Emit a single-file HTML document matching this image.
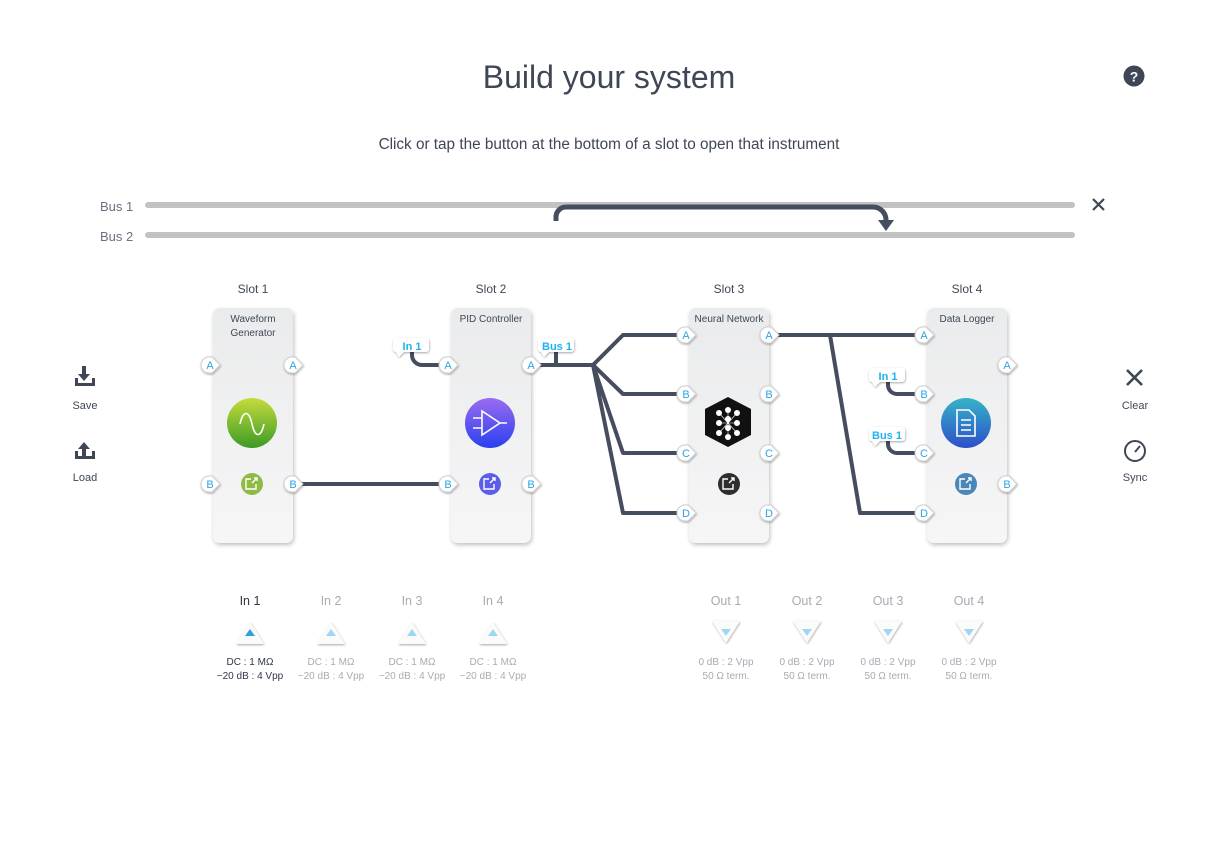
<!DOCTYPE html>
<html><head><meta charset="utf-8"><style>
html,body{margin:0;padding:0;background:#fff;}
svg{display:block;font-family:"Liberation Sans",sans-serif;}
</style></head><body>
<svg width="1226" height="843" viewBox="0 0 1226 843" xmlns="http://www.w3.org/2000/svg">
<defs>
<filter id="sh" x="-20%" y="-10%" width="140%" height="130%"><feDropShadow dx="1" dy="2" stdDeviation="2" flood-color="#000" flood-opacity="0.25"/></filter>
<filter id="sh2" x="-50%" y="-50%" width="200%" height="200%"><feDropShadow dx="0.5" dy="1" stdDeviation="1" flood-color="#000" flood-opacity="0.35"/></filter>
<linearGradient id="card" x1="0" y1="0" x2="0" y2="1"><stop offset="0" stop-color="#eaebec"/><stop offset="1" stop-color="#f6f6f7"/></linearGradient>
<linearGradient id="fadeL" x1="0" x2="1"><stop offset="0" stop-color="#454d5e" stop-opacity="0"/><stop offset="0.4" stop-color="#454d5e"/></linearGradient>
<linearGradient id="fadeR" x1="0" x2="1"><stop offset="0.6" stop-color="#454d5e"/><stop offset="1" stop-color="#454d5e" stop-opacity="0"/></linearGradient>
<linearGradient id="green" x1="0" y1="0" x2="0" y2="1"><stop offset="0" stop-color="#c6dc3c"/><stop offset="1" stop-color="#3c9a26"/></linearGradient>
<linearGradient id="blue" x1="0" y1="0" x2="0" y2="1"><stop offset="0" stop-color="#9a6cf0"/><stop offset="1" stop-color="#2a3ff0"/></linearGradient>
<linearGradient id="teal" x1="0" y1="0" x2="0" y2="1"><stop offset="0" stop-color="#36b3c8"/><stop offset="1" stop-color="#2c4fc8"/></linearGradient>
<g id="port"><path d="M-1,-8 h3 l8,8 l-8,8 h-3 a8,8 0 0 1 0,-16z" fill="#fff" stroke="#d0d0d2" stroke-width="1" filter="url(#sh2)"/></g>
<g id="tag"><path d="M-17,-8 h30 a3,3 0 0 1 3,3 v8 a3,3 0 0 1 -3,3 h-22 l-5,5 l-3,-5 a3,3 0 0 1 -3,-3 v-8 a3,3 0 0 1 3,-3z" fill="#fff" filter="url(#sh2)"/></g>
</defs>

<text x="609" y="88" font-size="32" fill="#3f4756" text-anchor="middle">Build your system</text>
<circle cx="1134" cy="76" r="10.5" fill="#3f4756"/><text x="1134" y="81.5" font-size="14" font-weight="bold" fill="#fff" text-anchor="middle">?</text>
<text x="609" y="149" font-size="15.3" fill="#3f4756" text-anchor="middle">Click or tap the button at the bottom of a slot to open that instrument</text>

<text x="100" y="211" font-size="13" fill="#6a7180">Bus 1</text>
<text x="100" y="241" font-size="13" fill="#6a7180">Bus 2</text>
<line x1="148" y1="205" x2="1072" y2="205" stroke="#c2c2c2" stroke-width="6" stroke-linecap="round"/>
<line x1="148" y1="235" x2="1072" y2="235" stroke="#c2c2c2" stroke-width="6" stroke-linecap="round"/>
<path d="M556,221 v-4 a10,10 0 0 1 10,-10 h307 a13,13 0 0 1 13,13 v2" fill="none" stroke="#454d5e" stroke-width="5"/>
<path d="M878,220 h16 l-8,11z" fill="#454d5e"/>
<path d="M1093,199 l11,11 M1104,199 l-11,11" stroke="#3f4756" stroke-width="2.2"/>

<g fill="#3f4756"><rect x="82" y="366" width="4" height="10"/><path d="M78,374 h12 l-6,7z"/><path d="M75,378 v8 h20 v-8 h-3 v5 h-14 v-5z"/>
<rect x="82" y="447" width="4" height="10"/><path d="M78,449 h12 l-6,-7z"/><path d="M75,451 v8 h20 v-8 h-3 v5 h-14 v-5z"/></g>
<text x="85" y="409" font-size="11" fill="#3f4756" text-anchor="middle">Save</text>
<text x="85" y="481" font-size="11" fill="#3f4756" text-anchor="middle">Load</text>
<path d="M1127,370 l15,15 M1142,370 l-15,15" stroke="#3f4756" stroke-width="2.6"/>
<text x="1135" y="409" font-size="11" fill="#3f4756" text-anchor="middle">Clear</text>
<circle cx="1135" cy="451" r="10" fill="none" stroke="#3f4756" stroke-width="2"/><path d="M1135,452 l5,-6" stroke="#3f4756" stroke-width="2"/>
<text x="1135" y="481" font-size="11" fill="#3f4756" text-anchor="middle">Sync</text>

<g fill="none" stroke="#454d5e" stroke-width="4" stroke-linejoin="round">
<line x1="140" y1="365" x2="206" y2="365" stroke="url(#fadeL)"/>
<line x1="140" y1="484" x2="206" y2="484" stroke="url(#fadeL)"/>
<line x1="296" y1="484" x2="444" y2="484"/>
<path d="M412,350 v5 a10,10 0 0 0 10,10 h22"/>
<path d="M534,365 h59 M556,350 v15"/>
<path d="M593,365 L623,335 H682 M593,365 L623,394 H682 M593,365 L623,453 H682 M593,365 L623,513 H682"/>
<path d="M772,335 H920 M830,335 L860,513 H920"/>
<path d="M888,380 v5 a9,9 0 0 0 9,9 h23"/>
<path d="M888,439 v5 a9,9 0 0 0 9,9 h23"/>
<line x1="1010" y1="365" x2="1078" y2="365" stroke="url(#fadeR)"/>
<line x1="1010" y1="484" x2="1078" y2="484" stroke="url(#fadeR)"/>
</g>

<g filter="url(#sh)" fill="url(#card)">
<rect x="213" y="308" width="80" height="235" rx="7"/>
<rect x="451" y="308" width="80" height="235" rx="7"/>
<rect x="689" y="308" width="80" height="235" rx="7"/>
<rect x="927" y="308" width="80" height="235" rx="7"/>
</g>
<g font-size="10" fill="#3f4756" text-anchor="middle">
<text x="253" y="322">Waveform</text><text x="253" y="336">Generator</text>
<text x="491" y="322">PID Controller</text>
<text x="729" y="322">Neural Network</text>
<text x="967" y="322">Data Logger</text>
</g>
<g font-size="12" fill="#3f4756" text-anchor="middle">
<text x="253" y="293">Slot 1</text><text x="491" y="293">Slot 2</text><text x="729" y="293">Slot 3</text><text x="967" y="293">Slot 4</text>
</g>

<g>
<use href="#port" x="210" y="365"/><use href="#port" x="293" y="365"/><use href="#port" x="210" y="484"/><use href="#port" x="293" y="484"/>
<use href="#port" x="448" y="365"/><use href="#port" x="531" y="365"/><use href="#port" x="448" y="484"/><use href="#port" x="531" y="484"/>
<use href="#port" x="686" y="335"/><use href="#port" x="769" y="335"/><use href="#port" x="686" y="394"/><use href="#port" x="769" y="394"/>
<use href="#port" x="686" y="453"/><use href="#port" x="769" y="453"/><use href="#port" x="686" y="513"/><use href="#port" x="769" y="513"/>
<use href="#port" x="924" y="335"/><use href="#port" x="924" y="394"/><use href="#port" x="924" y="453"/><use href="#port" x="924" y="513"/>
<use href="#port" x="1007" y="365"/><use href="#port" x="1007" y="484"/>
</g>
<g font-size="11" fill="#2aa6e0" text-anchor="middle">
<text x="210" y="369">A</text><text x="293" y="369">A</text><text x="210" y="488">B</text><text x="293" y="488">B</text>
<text x="448" y="369">A</text><text x="531" y="369">A</text><text x="448" y="488">B</text><text x="531" y="488">B</text>
<text x="686" y="339">A</text><text x="769" y="339">A</text><text x="686" y="398">B</text><text x="769" y="398">B</text>
<text x="686" y="457">C</text><text x="769" y="457">C</text><text x="686" y="517">D</text><text x="769" y="517">D</text>
<text x="924" y="339">A</text><text x="924" y="398">B</text><text x="924" y="457">C</text><text x="924" y="517">D</text>
<text x="1007" y="369">A</text><text x="1007" y="488">B</text>
</g>

<use href="#tag" x="413" y="346"/><use href="#tag" x="558" y="346"/><use href="#tag" x="889" y="376"/><use href="#tag" x="889" y="435"/>
<g font-size="11" font-weight="bold" fill="#1cb4f0" text-anchor="middle">
<text x="412" y="350">In 1</text><text x="557" y="350">Bus 1</text><text x="888" y="380">In 1</text><text x="887" y="439">Bus 1</text>
</g>

<circle cx="252" cy="423" r="25" fill="url(#green)"/>
<path d="M237,424 c3,-14 9,-14 12,0 s9,14 12,0" fill="none" stroke="#fff" stroke-width="1.6" transform="translate(3,0)"/>
<circle cx="490" cy="423" r="25" fill="url(#blue)"/>
<path d="M482,411 v24 l18,-12z M473,418 h9 M473,428 h9 M500,423 h7" fill="none" stroke="#fff" stroke-width="1.6"/>
<path d="M728,398 l23,12 v26 l-23,12 l-23,-12 v-26z" fill="#111" transform="translate(0,-1)"/>
<g fill="#fff"><circle cx="719" cy="413" r="3"/><circle cx="719" cy="423" r="3"/><circle cx="719" cy="433" r="3"/><circle cx="728" cy="410" r="3"/><circle cx="728" cy="419" r="3"/><circle cx="728" cy="428" r="3"/><circle cx="728" cy="437" r="3"/><circle cx="737" cy="413" r="3"/><circle cx="737" cy="423" r="3"/><circle cx="737" cy="433" r="3"/></g>
<path d="M719,413 L737,433 M719,433 L737,413 M719,423 H737 M728,410 V437" stroke="#fff" stroke-width="0.6"/>
<circle cx="966" cy="423" r="25" fill="url(#teal)"/>
<path d="M957,410 h12 l6,6 v20 h-18z" fill="none" stroke="#fff" stroke-width="1.6"/>
<path d="M961,420 h10 M961,425 h10 M961,430 h10" stroke="#fff" stroke-width="1.4"/>

<circle cx="252" cy="484" r="11" fill="#8fbb45"/><circle cx="490" cy="484" r="11" fill="#5a5ee8"/><circle cx="729" cy="484" r="11" fill="#2e2e2e"/><circle cx="966" cy="484" r="11" fill="#4b86b8"/>
<g fill="none" stroke="#fff" stroke-width="1.4">
<path d="M251,479 h-5 v10 h10 v-5 M252,483 l5,-5 M254,478 h3 v3"/>
<path d="M489,479 h-5 v10 h10 v-5 M490,483 l5,-5 M492,478 h3 v3"/>
<path d="M728,479 h-5 v10 h10 v-5 M729,483 l5,-5 M731,478 h3 v3"/>
<path d="M965,479 h-5 v10 h10 v-5 M966,483 l5,-5 M968,478 h3 v3"/>
</g>

<g font-size="12.5" text-anchor="middle">
<text x="250" y="605" fill="#2f3747">In 1</text><text x="331" y="605" fill="#a7abb3">In 2</text><text x="412" y="605" fill="#a7abb3">In 3</text><text x="493" y="605" fill="#a7abb3">In 4</text>
<text x="726" y="605" fill="#a7abb3">Out 1</text><text x="807" y="605" fill="#a7abb3">Out 2</text><text x="888" y="605" fill="#a7abb3">Out 3</text><text x="969" y="605" fill="#a7abb3">Out 4</text>
</g>
<g filter="url(#sh2)" fill="#fbfbfb">
<path d="M250,622 l14,22 h-28z"/><path d="M331,622 l14,22 h-28z"/><path d="M412,622 l14,22 h-28z"/><path d="M493,622 l14,22 h-28z"/>
<path d="M726,643 l14,-22 h-28z"/><path d="M807,643 l14,-22 h-28z"/><path d="M888,643 l14,-22 h-28z"/><path d="M969,643 l14,-22 h-28z"/>
</g>
<path d="M250,629 l5,7 h-10z" fill="#2aa3dc"/>
<g fill="#9dd8f2"><path d="M331,629 l5,7 h-10z"/><path d="M412,629 l5,7 h-10z"/><path d="M493,629 l5,7 h-10z"/>
<path d="M726,636 l5,-7 h-10z"/><path d="M807,636 l5,-7 h-10z"/><path d="M888,636 l5,-7 h-10z"/><path d="M969,636 l5,-7 h-10z"/></g>
<g font-size="10" text-anchor="middle" fill="#a7abb3">
<text x="250" y="665" fill="#2f3747">DC : 1 MΩ</text><text x="250" y="679" fill="#2f3747">−20 dB : 4 Vpp</text>
<text x="331" y="665">DC : 1 MΩ</text><text x="331" y="679">−20 dB : 4 Vpp</text>
<text x="412" y="665">DC : 1 MΩ</text><text x="412" y="679">−20 dB : 4 Vpp</text>
<text x="493" y="665">DC : 1 MΩ</text><text x="493" y="679">−20 dB : 4 Vpp</text>
<text x="726" y="665">0 dB : 2 Vpp</text><text x="726" y="679">50 Ω term.</text>
<text x="807" y="665">0 dB : 2 Vpp</text><text x="807" y="679">50 Ω term.</text>
<text x="888" y="665">0 dB : 2 Vpp</text><text x="888" y="679">50 Ω term.</text>
<text x="969" y="665">0 dB : 2 Vpp</text><text x="969" y="679">50 Ω term.</text>
</g>
</svg>
</body></html>
